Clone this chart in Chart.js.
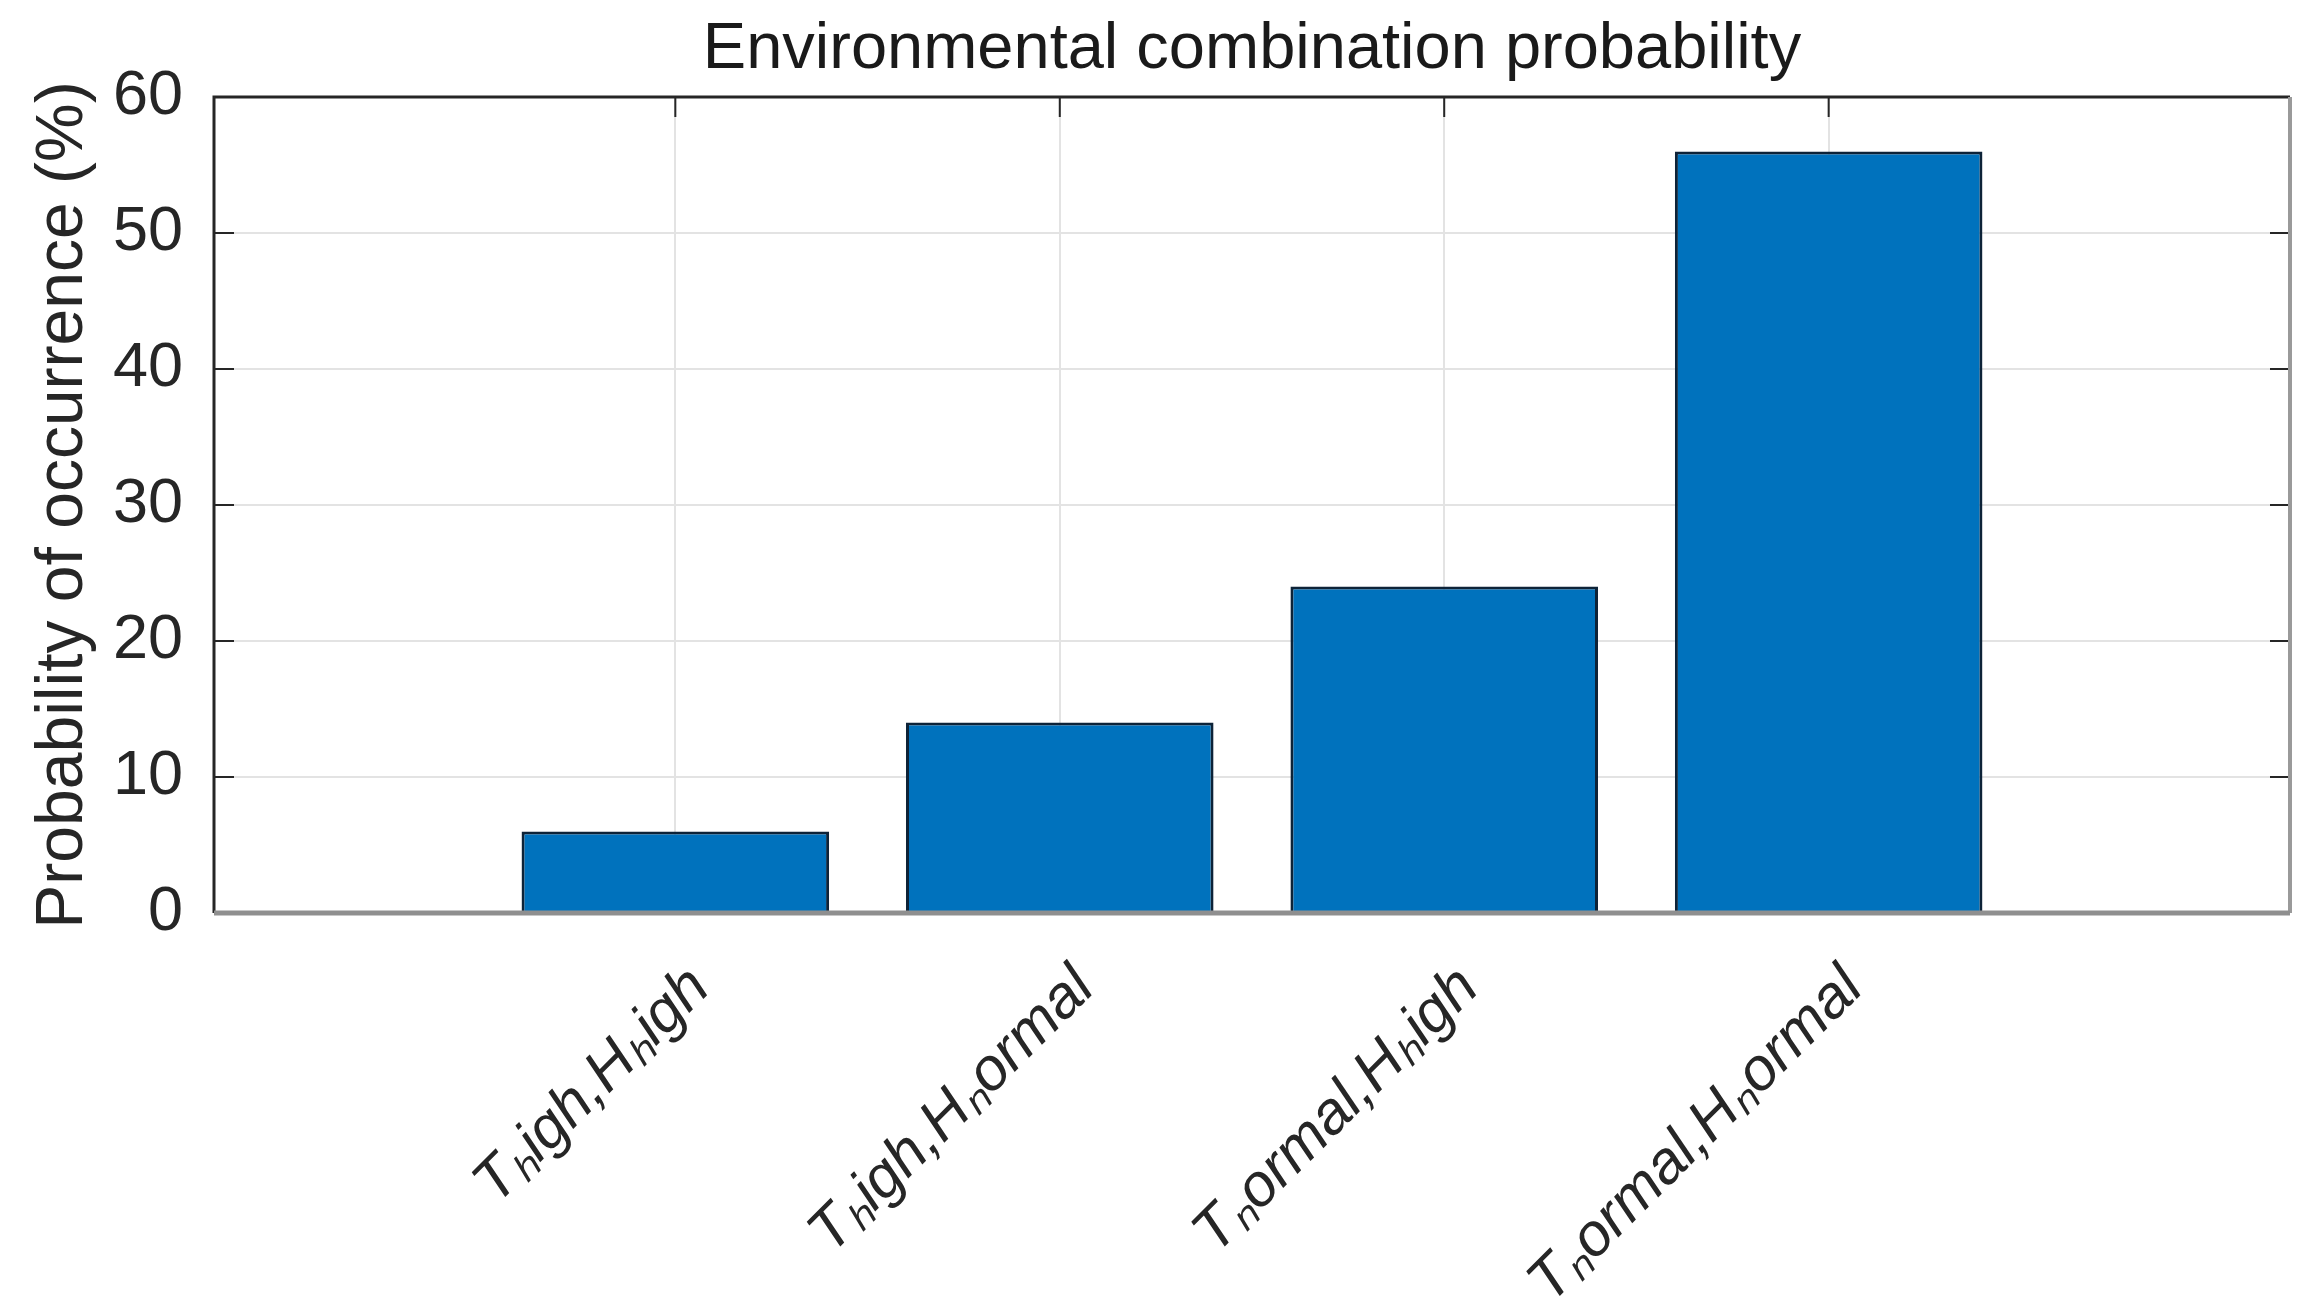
<!doctype html>
<html lang="en">
<head>
<meta charset="utf-8">
<title>Environmental combination probability</title>
<script src="https://cdn.jsdelivr.net/npm/chart.js"></script>
<style>
  html, body { margin: 0; padding: 0; background: #fff; }
  #wrap { width: 2313px; height: 1312px; }
</style>
</head>
<body>
<div id="wrap"><canvas id="probChart"></canvas></div>
<script>
// categories (the original TeX labels only subscript the first letter after "_")
const categories = ['Tₕigh,Hₕigh', 'Tₕigh,Hₙormal', 'Tₙormal,Hₕigh', 'Tₙormal,Hₙormal'];
const positions = [1, 2, 3, 4];
const probability = [6, 14, 24, 56];
const yTicks = [0, 10, 20, 30, 40, 50, 60];

const FONT = "'Liberation Sans', Arial, Helvetica, sans-serif";
const INK = '#262626';

// MATLAB style box with inward ticks
const framePlugin = {
  id: 'frame',
  afterDatasetsDraw(chart) {
    const { ctx, chartArea: a, scales: { x, y } } = chart;
    ctx.save();
    ctx.strokeStyle = INK;
    ctx.lineWidth = 2;
    ctx.beginPath();
    yTicks.forEach(v => {
      const py = y.getPixelForValue(v);
      ctx.moveTo(a.left, py); ctx.lineTo(a.left + 20, py);
      ctx.moveTo(a.right, py); ctx.lineTo(a.right - 20, py);
    });
    positions.forEach(v => {
      const px = x.getPixelForValue(v);
      ctx.moveTo(px, a.top); ctx.lineTo(px, a.top + 20);
    });
    ctx.stroke();

    ctx.lineWidth = 3;
    ctx.beginPath();
    ctx.moveTo(a.left, a.bottom); ctx.lineTo(a.left, a.top); ctx.lineTo(a.right, a.top);
    ctx.stroke();

    ctx.strokeStyle = '#9a9a9a';
    ctx.lineWidth = 4;
    ctx.beginPath();
    ctx.moveTo(a.right, a.top); ctx.lineTo(a.right, a.bottom);
    ctx.stroke();
    ctx.lineWidth = 5;
    ctx.strokeStyle = '#8f8f8f';
    ctx.beginPath();
    ctx.moveTo(a.left, a.bottom); ctx.lineTo(a.right, a.bottom);
    ctx.stroke();
    ctx.restore();
  }
};

const ctx = document.getElementById('probChart').getContext('2d');
new Chart(ctx, {
  type: 'bar',
  data: {
    datasets: [{
      data: positions.map((p, i) => ({ x: p, y: probability[i] })),
      backgroundColor: '#0072BD',
      borderColor: '#0d2338',
      borderWidth: 3,
      barPercentage: 0.8,
      categoryPercentage: 1.0
    }]
  },
  options: {
    responsive: true,
    maintainAspectRatio: false,
    animation: false,
    layout: { padding: { left: 0, right: 23, top: 0, bottom: 0 } },
    plugins: {
      legend: { display: false },
      tooltip: { enabled: false },
      title: {
        display: true,
        fullSize: false,
        text: 'Environmental combination probability',
        color: '#1a1a1a',
        font: { family: FONT, size: 65, weight: 'normal', lineHeight: 1.2 },
        padding: { top: 11, bottom: 8 }
      }
    },
    scales: {
      x: {
        type: 'linear',
        min: -0.2,
        max: 5.2,
        offset: false,
        afterBuildTicks: scale => { scale.ticks = positions.map(v => ({ value: v })); },
        afterFit: scale => { scale.height = 399; },
        grid: { color: '#e3e3e3', lineWidth: 2, drawTicks: false, offset: false },
        border: { display: false },
        ticks: {
          autoSkip: false,
          minRotation: 45,
          maxRotation: 45,
          padding: 40,
          labelOffset: 25,
          color: INK,
          font: { family: FONT, size: 60, style: 'italic' },
          callback: v => categories[positions.indexOf(v)]
        }
      },
      y: {
        min: 0,
        max: 60,
        afterBuildTicks: scale => { scale.ticks = yTicks.map(v => ({ value: v })); },
        afterFit: scale => { scale.width = 214; },
        grid: { color: '#e3e3e3', lineWidth: 2, drawTicks: false },
        border: { display: false },
        ticks: {
          padding: 31,
          color: INK,
          font: { family: FONT, size: 63 }
        },
        title: {
          display: true,
          text: 'Probability of occurrence (%)',
          color: INK,
          font: { family: FONT, size: 66, lineHeight: 1.2 },
          padding: { top: 24, bottom: 0 }
        }
      }
    }
  },
  plugins: [framePlugin]
});
</script>
</body>
</html>
